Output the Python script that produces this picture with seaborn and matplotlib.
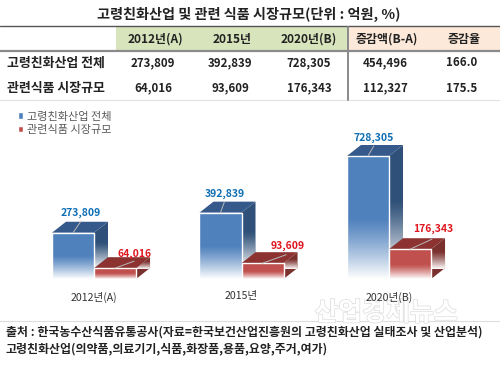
import matplotlib
matplotlib.use("Agg")
import matplotlib.pyplot as plt
from matplotlib.patches import Polygon, Rectangle, PathPatch
from matplotlib.path import Path
import matplotlib.patheffects as pe
import numpy as np
import pandas as pd
import seaborn as sns

# values
years = ["2012년(A)", "2015년", "2020년(B)"]
series_names = ["고령친화산업 전체", "관련식품 시장규모"]
total_values = [273809, 392839, 728305]
food_values = [64016, 93609, 176343]

# table contents
table_header = ["2012년(A)", "2015년", "2020년(B)", "증감액(B-A)", "증감율"]
total_row = ["273,809", "392,839", "728,305", "454,496", "166.0"]
food_row = ["64,016", "93,609", "176,343", "112,327", "175.5"]

title_text = "고령친화산업 및 관련 식품 시장규모(단위 : 억원, %)"
source_lines = [
    "출처 : 한국농수산식품유통공사(자료=한국보건산업진흥원의 고령친화산업 실태조사 및 산업분석)",
    "고령친화산업(의약품,의료기기,식품,화장품,용품,요양,주거,여가)",
]
watermark_text = "산업경제뉴스"

sns.set_theme(style="white")
plt.rcParams["font.family"] = ["Noto Sans CJK KR", "DejaVu Sans"]

W, H = 500, 367
fig = plt.figure(figsize=(W / 100, H / 100), dpi=100)

# page layer, in image pixels: table, footer and watermark
bg = fig.add_axes([0, 0, 1, 1])
bg.set_xlim(0, W)
bg.set_ylim(H, 0)
bg.axis("off")

bg.text(249, 14, title_text, ha="center", va="center", fontsize=10.2, fontweight="bold", color="#222222")
bg.add_patch(Rectangle((116, 27), 231, 24, color="#d8e4bc", lw=0))
bg.add_patch(Rectangle((348, 27), 152, 24, color="#fde9d9", lw=0))
bg.plot([0, W], [26, 26], color="#555555", lw=1)
bg.plot([0, W], [51, 51], color="#8a8a8a", lw=1.6)
bg.plot([0, W], [100, 100], color="#e2e2e2", lw=0.8)
bg.plot([347.5, 347.5], [27, 100], color="#8a8a8a", lw=1.4)

col_x = [155, 232, 309, 387, 464]
num_x = [153, 230, 309, 385, 462]
for x, label in zip(col_x, table_header):
    bg.text(x, 39, label, ha="center", va="center", fontsize=8.6, fontweight="bold", color="#222222")
for row_y, name, row in [(63, series_names[0], total_row), (88, series_names[1], food_row)]:
    bg.text(7, row_y, name, ha="left", va="center", fontsize=9.3, fontweight="bold", color="#222222")
    for x, val in zip(num_x, row):
        bg.text(x, row_y, val, ha="center", va="center", fontsize=8.3, fontweight="bold", color="#222222")

bg.plot([0, W], [321, 321], color="#dddddd", lw=0.8)
bg.text(6, 332, source_lines[0], ha="left", va="center", fontsize=8.6, fontweight="bold", color="#222222")
bg.text(6, 349, source_lines[1], ha="left", va="center", fontsize=8.6, fontweight="bold", color="#222222")
bg.text(386, 313, watermark_text, ha="center", va="center", fontsize=18.7, fontweight="bold", color="white",
        zorder=6, path_effects=[pe.withStroke(linewidth=1.0, foreground="#dcdcdc")])

# chart layer: baseline at y=279 px, 123 px for the largest value
base_px, top_px = 279, 100
value_per_px = max(total_values) / 123
ax = fig.add_axes([0, 1 - base_px / H, 1, (base_px - top_px) / H])
ax.patch.set_alpha(0)

df = pd.DataFrame({
    "year": years * 2,
    "series": [series_names[0]] * 3 + [series_names[1]] * 3,
    "value": total_values + food_values,
})
sns.barplot(data=df, x="year", y="value", hue="series", palette=["#4f81bd", "#c0504d"],
            saturation=1, width=0.57, gap=0, ax=ax)
px_per_cat = 147.5
ax.set_xlim(-94 / px_per_cat, (W - 94) / px_per_cat)
ax.set_ylim(0, (base_px - top_px) * value_per_px)
ax.set_xlabel("")
ax.set_ylabel("")
ax.set_yticks([])
sns.despine(ax=ax, left=True, bottom=True)
ax.tick_params(axis="x", length=0, pad=9, labelsize=7.6, labelcolor="#333333")
for t in ax.get_xticklabels():
    t.set_fontweight("medium")

sns.move_legend(ax, loc="upper left", bbox_to_anchor=(0.018, 0.985), frameon=False, title=None,
                fontsize=8, labelcolor="#595959", handlelength=0.5, handleheight=0.5,
                handletextpad=0.35, labelspacing=0.3, borderpad=0.3)

depth_x = 14 / px_per_cat
depth_y = 11 * value_per_px
fade = np.linspace(0, 1, 64).reshape(-1, 1)


def white_fade(patch_path, x0, x1, y0, y1, zorder):
    # white overlay: clear at the top of the range, solid at its bottom
    rgba = np.ones((64, 1, 4))
    rgba[:, 0, 3] = np.clip(fade[:, 0], 0, 1) ** 1.2
    im = ax.imshow(rgba, extent=(x0, x1, y1, y0), aspect="auto", origin="upper", zorder=zorder)
    im.set_clip_path(PathPatch(patch_path, transform=ax.transData))


face_colors = [("#35598a", "#2f5078"), ("#8c3331", "#7a302d")]
for s, container in enumerate(ax.containers):
    z = 2 + s
    top_c, side_c = face_colors[s]
    for bar in container:
        x0, x1 = bar.get_x(), bar.get_x() + bar.get_width()
        h = bar.get_height()
        top = [(x0, h), (x0 + depth_x, h + depth_y), (x1 + depth_x, h + depth_y), (x1, h)]
        side = [(x1, 0), (x1 + depth_x, depth_y), (x1 + depth_x, h + depth_y), (x1, h)]
        ax.add_patch(Polygon(side, closed=True, color=side_c, lw=0, zorder=z))
        ax.add_patch(Polygon(top, closed=True, color=top_c, lw=0, zorder=z + 0.2))
        white_fade(Path(side + [side[0]]), x1, x1 + depth_x, depth_y + h * 0.55, depth_y * 0.9, z + 0.1)
        bar.set_zorder(z + 0.3)
        white_fade(Path([(x0, 0), (x1, 0), (x1, h), (x0, h), (x0, 0)]), x0, x1, h * 0.5, 0, z + 0.4)

ax.set_xlim(-94 / px_per_cat, (W - 94) / px_per_cat)
ax.set_ylim(0, (base_px - top_px) * value_per_px)

# value labels with leader lines, offsets in pixels from the middle of each bar's top
label_offsets = [[(8, 20), (4, 19), (6, 18)], [(20, 14), (25, 17), (23, 20)]]
label_colors = ["#0f6fb5", "#e0161f"]
for s, container in enumerate(ax.containers):
    for bar, off in zip(container, label_offsets[s]):
        cx = bar.get_x() + bar.get_width() / 2
        h = bar.get_height()
        ax.annotate(f"{h:,.0f}", (cx, h), xytext=off, textcoords="offset pixels", ha="center", va="center",
                    fontsize=7.5, fontweight="bold", color=label_colors[s], zorder=7)
        ax.annotate("", (cx, h), xytext=(off[0] * 0.95, off[1] * 0.55 if s == 0 else off[1] * 0.5),
                    textcoords="offset pixels", zorder=6,
                    arrowprops=dict(arrowstyle="-", color="#b8b8b8", lw=0.7, shrinkA=0, shrinkB=0))

fig.savefig("out.png", dpi=100)
